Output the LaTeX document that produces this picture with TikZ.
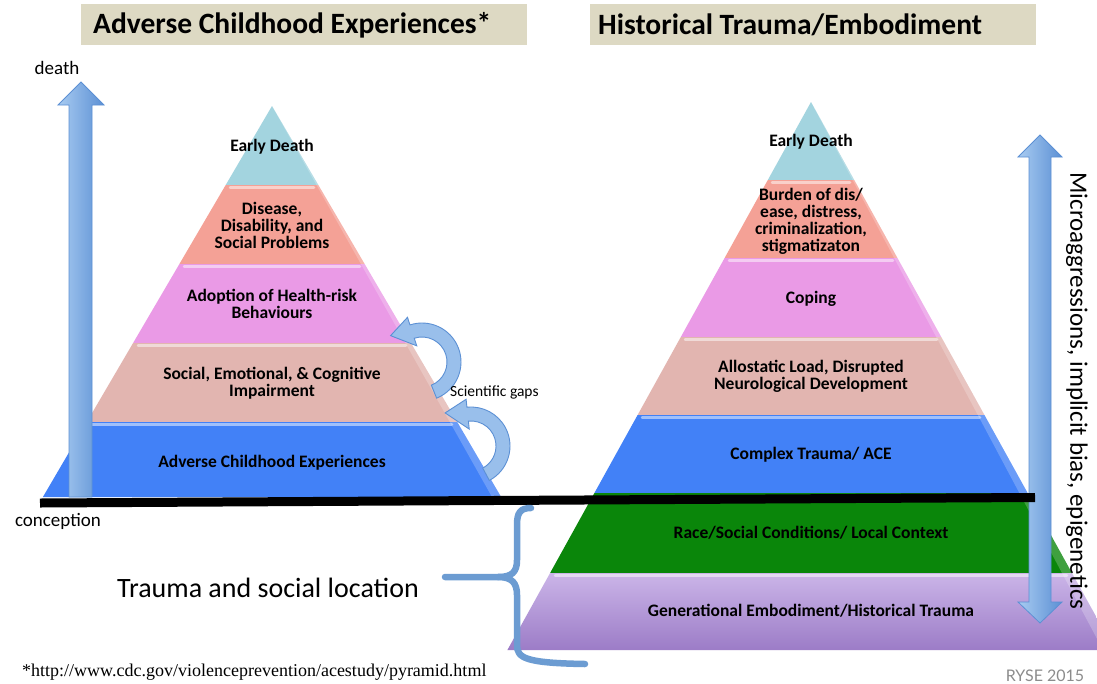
\documentclass[tikz,border=0pt]{standalone}
\usepackage{fontspec}
\setmainfont{Carlito}
\newfontfamily\urlfont{Liberation Serif}
\newfontfamily\ryse{Lato}
\usetikzlibrary{calc}
\definecolor{tealc}{HTML}{A3D4DF}
\definecolor{salmonc}{HTML}{F4A196}
\definecolor{pinkc}{HTML}{EA9AE6}
\definecolor{dustyc}{HTML}{E2B5B0}
\definecolor{acec}{HTML}{4281F7}
\definecolor{grnc}{HTML}{0A860A}
\definecolor{purtop}{HTML}{CBB5E8}
\definecolor{purbot}{HTML}{9C7CC7}
\definecolor{titlebg}{HTML}{DDD9C3}
\definecolor{arrlight}{HTML}{A8CBF1}
\definecolor{arrdark}{HTML}{5C90D4}
\definecolor{bracec}{HTML}{6C9CD2}
\definecolor{ryseg}{HTML}{8C8C8C}
\begin{document}
\begin{tikzpicture}[x=1pt,y=-1pt,
  lay/.style={font=\fontsize{17.5}{17}\selectfont\bfseries, align=center, inner sep=0pt},
  titletxt/.style={font=\fontsize{29.5}{33}\selectfont\bfseries, anchor=west, inner sep=0pt},
  lbl/.style={font=\fontsize{19}{22}\selectfont, inner sep=0pt},
  hl/.style={white, opacity=0.5, line width=2.5pt, line cap=round},
  sidehl/.style={white, opacity=0.22},
  blockarrow/.style={left color=arrlight, right color=arrdark, draw=arrdark, line width=0.8pt},
  curvarrow/.style={fill=arrlight!80!arrdark, draw=arrdark, line width=0.9pt},
  bracestyle/.style={bracec, line width=6.5pt, line cap=round, line join=round}]
\useasboundingbox (0,0) rectangle (1097,683);
\fill[white] (0,0) rectangle (1097,683);
\begin{scope}
\clip (0,0) rectangle (1097,683);

% ---------- title boxes ----------
\fill[titlebg] (81,4) rectangle (527,45);
\node[titletxt] (t1) at (93,25) {Adverse Childhood Experiences*};
\fill[titlebg] (590,4) rectangle (1036,45);
\node[titletxt] (t2) at (598,25) {Historical Trauma/Embodiment};

% ---------- left pyramid ----------
\fill[tealc]   (272,106) -- (318.3,185) -- (225.7,185) -- cycle;
\fill[salmonc] (225.7,185) -- (318.3,185) -- (364.6,264) -- (179.4,264) -- cycle;
\fill[pinkc]   (179.4,264) -- (364.6,264) -- (410.9,343) -- (133.1,343) -- cycle;
\fill[dustyc]  (133.1,343) -- (410.9,343) -- (457.2,422) -- (86.8,422) -- cycle;
\fill[acec]    (86.8,422) -- (457.2,422) -- (501.1,497) -- (42.9,497) -- cycle;
\fill[sidehl] (272,106) -- (501.1,497) -- (492,497) -- cycle;
\draw[hl] (230,187.5) -- (314,187.5);
\draw[hl] (184,266.5) -- (360,266.5);
\draw[hl] (138,345.5) -- (406,345.5);
\draw[hl] (92,424.5) -- (452,424.5);

\node[lay] (l1) at (272,147) {Early Death};
\node[lay] (l2) at (272,225) {Disease,\\Disability, and\\Social Problems};
\node[lay] (l3) at (272,304) {Adoption of Health-risk\\Behaviours};
\node[lay] (l4) at (272,383) {Social, Emotional, \& Cognitive\\Impairment};
\node[lay] (l5) at (272,463) {Adverse Childhood Experiences};

% ---------- right pyramid ----------
\fill[tealc]   (811,102) -- (854.2,180) -- (767.8,180) -- cycle;
\fill[salmonc] (767.8,180) -- (854.2,180) -- (897.4,258) -- (724.6,258) -- cycle;
\fill[pinkc]   (724.6,258) -- (897.4,258) -- (941.2,337) -- (680.8,337) -- cycle;
\fill[dustyc]  (680.8,337) -- (941.2,337) -- (984.4,415) -- (637.6,415) -- cycle;
\fill[acec]    (637.6,415) -- (984.4,415) -- (1027.6,493) -- (594.4,493) -- cycle;
\fill[grnc]    (594.4,493) -- (1027.6,493) -- (1071.9,573) -- (550.1,573) -- cycle;
\shade[top color=purtop, bottom color=purbot] (550.1,573) -- (1071.9,573) -- (1114.6,650) -- (507.4,650) -- cycle;
\fill[sidehl] (811,102) -- (1114.6,650) -- (1103,650) -- cycle;
\draw[hl] (772,182.5) -- (850,182.5);
\draw[hl] (729,260.5) -- (893,260.5);
\draw[hl] (685,339.5) -- (937,339.5);
\draw[hl] (642,417.5) -- (980,417.5);
\draw[hl] (555,575.5) -- (1067,575.5);

\node[lay] (r1) at (811,142) {Early Death};
\node[lay] (r2) at (811,221) {Burden of dis/\\ease, distress,\\criminalization,\\stigmatizaton};
\node[lay] (r3) at (811,299) {Coping};
\node[lay] (r4) at (811,376) {Allostatic Load, Disrupted\\Neurological Development};
\node[lay] (r5) at (811,455) {Complex Trauma/ ACE};
\node[lay] (r6) at (811,533) {Race/Social Conditions/ Local Context};
\node[lay] (r7) at (811,611) {Generational Embodiment/Historical Trauma};

% ---------- left up arrow ----------
\shade[blockarrow] (69,497) -- (69,105) -- (58,105) -- (81,82) -- (104,105) -- (92,105) -- (92,497) -- cycle;
\node[lbl] (death) at (57,68) {death};

% ---------- right double arrow ----------
\shade[blockarrow] (1029,157) -- (1018,157) -- (1040,135) -- (1062,157) -- (1051,157) -- (1051,602) -- (1062,602) -- (1040,623) -- (1018,602) -- (1029,602) -- cycle;
\node[font=\fontsize{25}{28}\selectfont, rotate=-90, inner sep=0pt] (micro) at (1077,391) {Microaggressions, implicit bias, epigenetics};

% ---------- black baseline ----------
\coordinate (bl) at (40,503);
\coordinate (br) at (1035,497.5);
\draw[black, line width=9pt] (bl) -- (br);
\node[lbl] (concep) at (58,521) {conception};

% ---------- scientific gaps arrows ----------
\coordinate (c1) at (422,362);
\draw[curvarrow] ($(c1)+(68:39)$) arc[start angle=68, end angle=-108, radius=39]
  -- ($(c1)+(-108:47)$) -- ($(c1)+(-140:41)$) -- ($(c1)+(-108:17)$) -- ($(c1)+(-108:25)$)
  arc[start angle=-108, end angle=68, radius=25] -- cycle;
\coordinate (c2) at (471,446);
\draw[curvarrow] ($(c2)+(62:39)$) arc[start angle=62, end angle=-96, radius=39]
  -- ($(c2)+(-96:47)$) -- ($(c2)+(-128:42)$) -- ($(c2)+(-96:17)$) -- ($(c2)+(-96:25)$)
  arc[start angle=-96, end angle=62, radius=25] -- cycle;
\node[font=\fontsize{15.5}{18}\selectfont, anchor=west, inner sep=0pt] (gaps) at (450,392) {Scientific gaps};

% ---------- brace ----------
\coordinate (bt) at (531,508);
\coordinate (bm) at (445,577);
\coordinate (bb) at (585,664);
\draw[bracestyle] (bt) .. controls (520,508) and (517,513) .. (517,525) -- (517,560)
  .. controls (517,572) and (512,577) .. (498,577) -- (bm);
\draw[bracestyle] (498,577) .. controls (512,577) and (517,583) .. (517,595) -- (517,645)
  .. controls (517,658) and (525,663) .. (bb);
\node[font=\fontsize{28}{32}\selectfont, inner sep=0pt] (tsl) at (268,588) {Trauma and social location};

% ---------- footnotes ----------
\node[font=\urlfont\fontsize{18}{20}\selectfont, anchor=west, inner sep=0pt] (url) at (22,672) {*http://www.cdc.gov/violenceprevention/acestudy/pyramid.html};
\node[font=\ryse\fontsize{16}{18}\selectfont, text=ryseg, inner sep=0pt] (ryse) at (1045,676) {RYSE 2015};
\end{scope}
\end{tikzpicture}
\end{document}
